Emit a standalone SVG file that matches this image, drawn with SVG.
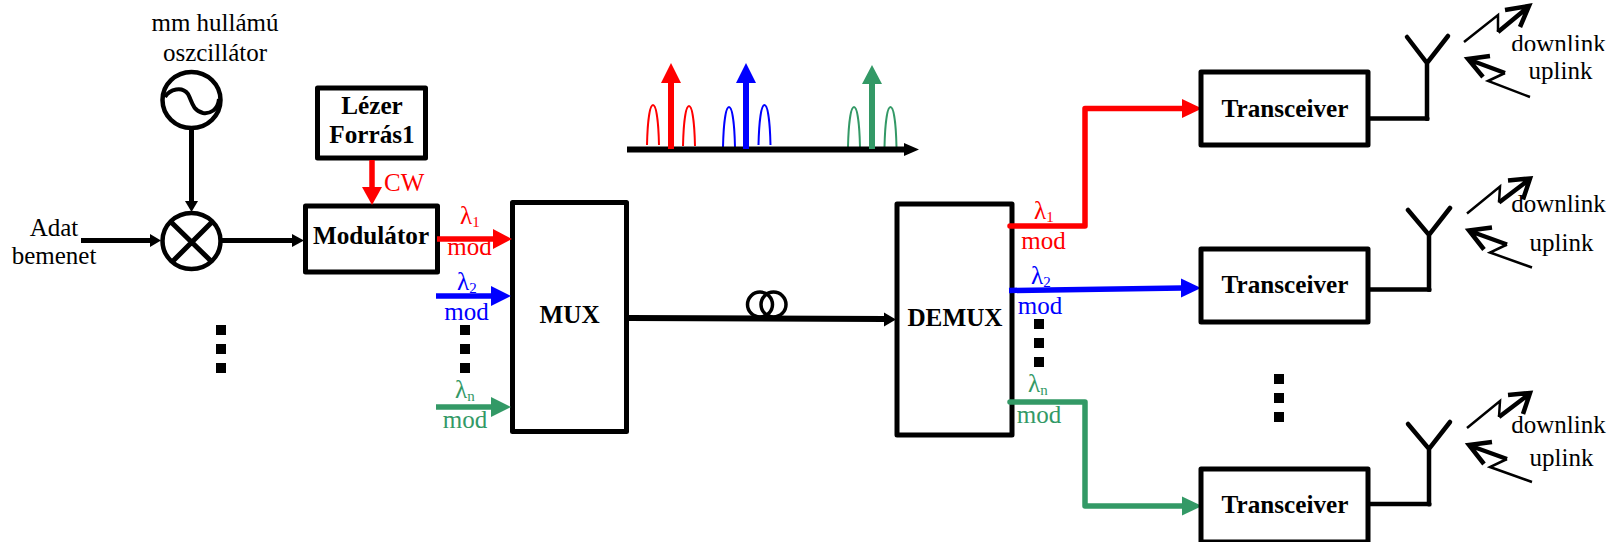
<svg xmlns="http://www.w3.org/2000/svg" width="1610" height="542" viewBox="0 0 1610 542">
<style>
text{font-family:"Liberation Serif","Times New Roman",serif;font-size:25px;fill:#000}
.c{text-anchor:middle}
.b{font-weight:bold;font-size:25.200px}
.box{fill:#fff;stroke:#000;stroke-width:5;stroke-linejoin:round}
.k{fill:none;stroke:#000;stroke-width:5}
.ln{fill:none;stroke-width:5.5;stroke-linejoin:round;stroke-linecap:butt}
.thin{fill:none;stroke:#000;stroke-width:2.5;stroke-linejoin:miter}
.thick{fill:none;stroke:#000;stroke-width:4.5;stroke-linecap:butt;stroke-linejoin:miter}
.ant{fill:none;stroke:#000;stroke-width:4.5;stroke-linecap:round;stroke-linejoin:miter}
.bump{fill:none;stroke-width:2}
.r{fill:#f00;stroke:#f00}
.bl{fill:#00f;stroke:#00f}
.g{fill:#396;stroke:#396}
text.r,text.bl,text.g{stroke:none}
.s{font-size:15px}
</style>
<defs>
<path id="bump" d="M0 0C0.5 -22 2.500 -40 6 -40S11.500 -22 12 0"/>
<g id="dots"><rect x="0" y="0" width="10" height="10"/><rect x="0" y="19" width="10" height="10"/><rect x="0" y="38" width="10" height="10"/></g>
<clipPath id="dlclip"><rect x="1500" y="20" width="110" height="31"/></clipPath>
</defs>

<g id="oscillator-label"><text class="c" x="215" y="31">mm hullámú</text><text class="c" x="215" y="61">oszcillátor</text></g>
<g id="oscillator">
<ellipse cx="191.500" cy="100" rx="29" ry="28" fill="#fff" stroke="#000" stroke-width="4.500"/>
<path fill="none" stroke="#000" stroke-width="4" d="M165 97C170 89 182 86 188 94C192 101 192 110 203 113C210 114 218 110 219 99"/>
</g>
<g id="mixer">
<ellipse cx="191.500" cy="241" rx="29" ry="28" fill="#fff" stroke="#000" stroke-width="4.500"/>
<path class="k" d="M171 222L212 262M172 262L212 222"/>
</g>
<g id="input-label"><text class="c" x="54" y="236">Adat</text><text class="c" x="54" y="264">bemenet</text></g>
<g id="laser"><rect class="box" x="317.500" y="88" width="108" height="70"/><text class="c b" x="372" y="114">Lézer</text><text class="c b" x="372" y="143">Forrás1</text></g>
<text class="r" x="384" y="191">CW</text>
<g id="modulator"><rect class="box" x="305.500" y="206" width="132" height="66"/><text class="c b" x="371" y="244">Modulátor</text></g>
<g id="mux"><rect class="box" x="512.500" y="202.500" width="114" height="229"/><text class="c b" x="569.500" y="323">MUX</text></g>
<g id="demux"><rect class="box" x="897" y="204" width="115" height="231"/><text class="c b" x="955" y="326">DEMUX</text></g>

<g id="connectors">
<path class="k" d="M191.500 130V202"/><path d="M185 201H198L191.500 212Z"/>
<path class="k" d="M81 240.500H151"/><path d="M150 234L161 240.500L150 247Z"/>
<path class="k" d="M222 240.500H293"/><path d="M292 234L304 240.500L292 247Z"/>
<path class="ln r" style="fill:none" d="M372 160V188"/><path class="r" style="stroke:none" d="M362 187H382L372 205Z"/>
<path class="ln r" style="fill:none" d="M437 239H494"/><path class="r" style="stroke:none" d="M493 229L512 239L493 249Z"/>
<path class="ln bl" style="fill:none" d="M436 296H492"/><path class="bl" style="stroke:none" d="M491 286L511 296L491 306Z"/>
<path class="ln g" style="fill:none" d="M436 407H492"/><path class="g" style="stroke:none" d="M491 397L511 407L491 417Z"/>
<path class="k" style="stroke-width:6" d="M629 318L885 319"/><path d="M884 312.500L896 319.500L884 326.500Z"/>
<ellipse cx="760" cy="304.500" rx="12.500" ry="12.500" fill="none" stroke="#000" stroke-width="3.500"/>
<ellipse cx="773.500" cy="304.500" rx="12.500" ry="12.500" fill="none" stroke="#000" stroke-width="3.500"/>
<path class="ln r" style="fill:none;stroke-linecap:round" d="M1010 226H1085V108.500H1183"/><path class="r" style="stroke:none" d="M1182 99L1202 108.500L1182 118Z"/>
<path class="ln bl" style="fill:none" d="M1009 290.500L1182 288"/><path class="bl" style="stroke:none" d="M1181 278.500L1201 288L1181 297.500Z"/>
<path class="ln g" style="fill:none;stroke-linecap:round" d="M1010 402H1085V506H1183"/><path class="g" style="stroke:none" d="M1182 496.500L1202 506L1182 515.500Z"/>
</g>

<g id="mux-labels">
<text class="r" x="460" y="224">λ<tspan class="s" dy="3">1</tspan></text><text class="r c" x="469.500" y="255">mod</text>
<text class="bl" x="457" y="290">λ<tspan class="s" dy="3">2</tspan></text><text class="bl c" x="466.500" y="320">mod</text>
<text class="g" x="455" y="398">λ<tspan class="s" dy="3">n</tspan></text><text class="g c" x="465" y="428">mod</text>
</g>
<g id="demux-labels">
<text class="r" x="1034" y="219">λ<tspan class="s" dy="3">1</tspan></text><text class="r c" x="1043.500" y="249">mod</text>
<text class="bl" x="1031" y="284">λ<tspan class="s" dy="3">2</tspan></text><text class="bl c" x="1040" y="314">mod</text>
<text class="g" x="1028" y="392">λ<tspan class="s" dy="3">n</tspan></text><text class="g c" x="1039" y="423">mod</text>
</g>

<g id="ellipses">
<use href="#dots" x="216" y="325"/><use href="#dots" x="460" y="325"/><use href="#dots" x="1034" y="319"/><use href="#dots" x="1274" y="374"/>
</g>

<g id="spectrum">
<g class="bump" stroke="#f00"><use href="#bump" x="647" y="145"/><use href="#bump" x="683" y="146"/></g>
<g class="bump" stroke="#00f"><use href="#bump" x="723" y="147"/><use href="#bump" x="758.500" y="145"/></g>
<g class="bump" stroke="#396"><use href="#bump" x="848" y="147"/><use href="#bump" x="884.500" y="147"/></g>
<path class="k" style="stroke-width:6" d="M627 149.500H905"/><path d="M904 143L919 149.500L904 156Z"/>
<path class="r" style="stroke:none" d="M668 149V83H661L671 63L681 83H674V149Z"/>
<path class="bl" style="stroke:none" d="M743 149V83H736L746 63L756 83H749V149Z"/>
<path class="g" style="stroke:none" d="M869 149V84H862L872 65L882 84H875V149Z"/>
</g>

<g id="transceiver-1">
<rect class="box" x="1201" y="72" width="167" height="73"/><text class="c b" x="1285" y="117">Transceiver</text>
<path class="ant" d="M1370 118.500H1427V63M1407 37L1427 63L1448 36"/><circle cx="1427" cy="118.500" r="2.500"/>
<text class="c" x="1558.500" y="52" clip-path="url(#dlclip)">downlink</text><text class="c" x="1560.500" y="79">uplink</text>
<path class="thin" d="M1464 42L1498 15L1498 32"/><path class="thick" d="M1505 10L1529 6L1520 27M1498 32L1527 8"/>
<path class="thin" d="M1530 97L1488 81L1505 73"/><path class="thick" d="M1490 56L1468 59L1483 77M1505 73L1470 60"/>
</g>
<g id="transceiver-2">
<rect class="box" x="1201" y="249" width="167" height="73"/><text class="c b" x="1285" y="293">Transceiver</text>
<path class="ant" d="M1370 289.500H1429V235M1408 210L1429 235L1450 208"/><circle cx="1429" cy="289.500" r="2.500"/>
<path class="thin" d="M1467 213.500L1500 186.500L1499 202.500"/><path class="thick" d="M1508 180.500L1530 178.500L1523 199.500M1499 202.500L1528 180.500"/>
<path class="thin" d="M1532 267.500L1490 252.500L1507 244.500"/><path class="thick" d="M1492 227.500L1469 230.500L1484 249.500M1507 244.500L1471 231.500"/>
<text class="c" x="1558.500" y="212">downlink</text><text class="c" x="1561.500" y="251">uplink</text>
</g>
<g id="transceiver-3">
<rect class="box" x="1201" y="469" width="167" height="73"/><text class="c b" x="1285" y="513">Transceiver</text>
<path class="ant" d="M1370 504H1429V449M1408 424L1429 449L1450 422"/><circle cx="1429" cy="504" r="2.500"/>
<path class="thin" d="M1467 428L1500 401L1499 417"/><path class="thick" d="M1508 395L1530 393L1523 414M1499 417L1528 395"/>
<path class="thin" d="M1532 482L1490 467L1507 459"/><path class="thick" d="M1492 442L1469 445L1484 464M1507 459L1471 446"/>
<text class="c" x="1558.500" y="433">downlink</text><text class="c" x="1561.500" y="466">uplink</text>
</g>
</svg>
